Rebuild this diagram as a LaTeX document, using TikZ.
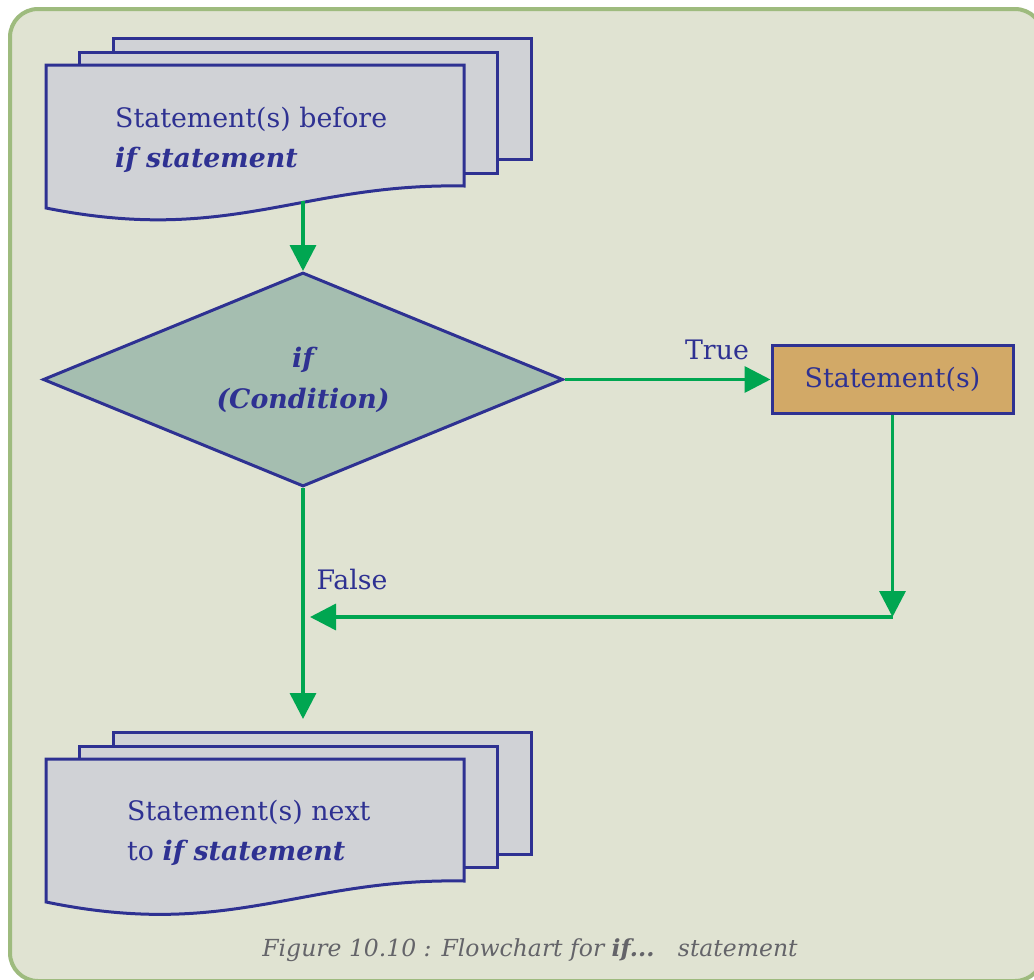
\documentclass[tikz,border=0pt]{standalone}
\usepackage{fontspec}
\setmainfont{DejaVu Serif}
\usetikzlibrary{shapes.geometric,arrows.meta}
\definecolor{framegreen}{RGB}{158,187,126}
\definecolor{framefill}{RGB}{224,227,210}
\definecolor{navy}{RGB}{46,49,146}
\definecolor{sheetgray}{RGB}{208,210,214}
\definecolor{diagreen}{RGB}{165,190,176}
\definecolor{boxtan}{RGB}{210,169,103}
\definecolor{flowgreen}{RGB}{0,166,81}
\definecolor{capgray}{RGB}{100,100,105}
\tikzset{
  sheet/.style={draw=navy,fill=sheetgray,line width=3pt},
  flow/.style={draw=flowgreen,line width=3.5pt,-{Triangle[length=26pt,width=26pt]}},
  lbl/.style={text=navy,inner sep=0pt,font=\fontsize{26.8pt}{40pt}\selectfont}
}
\begin{document}
\begin{tikzpicture}[x=1pt,y=-1pt]
\path[fill=white,use as bounding box] (0,0) rectangle (1034,980);
\draw[framegreen,fill=framefill,line width=4pt,rounded corners=28pt] (10,9) rectangle (1043,981);
% statements before the if
\draw[sheet] (113,38) rectangle (531,159);
\draw[sheet] (79,52) rectangle (497,173);
\draw[sheet] (46,65) -- (464,65) -- (464,186) .. controls (300,183) and (230,245) .. (46,208) -- cycle;
\node[lbl,anchor=west,align=left] (before) at (115,140) {Statement(s) before\\\textbf{\textit{if statement}}};
% statements next to the if
\draw[sheet] (113,732) rectangle (531,854);
\draw[sheet] (79,746) rectangle (497,867);
\draw[sheet] (46,759) -- (464,759) -- (464,881) .. controls (300,878) and (230,940) .. (46,902) -- cycle;
\node[lbl,anchor=west,align=left] (next) at (127,833) {Statement(s) next\\to \textbf{\textit{if statement}}};
% decision and true branch
\node[diamond,aspect=2.43,draw=navy,fill=diagreen,line width=3pt,minimum width=520pt,minimum height=214pt,inner sep=0pt,
  text=navy,align=center,font=\fontsize{26.8pt}{41pt}\selectfont\bfseries\itshape] (cond) at (303,379.5) {if\\(Condition)};
\node[draw=navy,fill=boxtan,line width=3pt,minimum width=241pt,minimum height=68pt,lbl] (stmt) at (892.5,379.5) {Statement(s)};
\node[lbl] (true) at (717,350) {True};
\node[lbl] (false) at (352,580) {False};
\coordinate (before-out) at (303,201);
\coordinate (join) at (892.5,617);
\coordinate (merge) at (310,617);
\coordinate (next-in) at (303,719);
\draw[flow] (before-out) -- (cond.north);
\draw[flow] (cond.east) -- (stmt.west);
\draw[flow] (stmt.south) -- (join);
\draw[flow] (join) -- (merge);
\draw[flow] (cond.south) -- (next-in);
% caption
\node[text=capgray,font=\fontsize{23.5pt}{28pt}\selectfont\itshape] (caption) at (530,950) {Figure 10.10 : Flowchart for \textbf{if...}\quad statement};
\end{tikzpicture}
\end{document}
